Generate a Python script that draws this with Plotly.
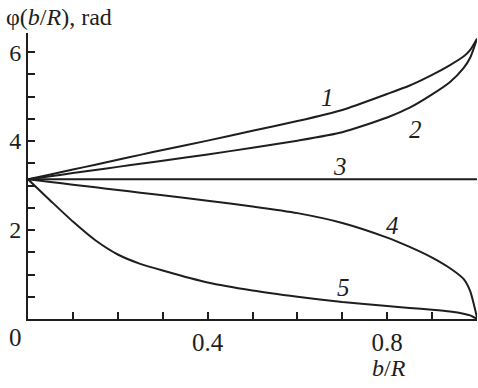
import plotly.graph_objects as go

x = [0, 0.05, 0.1, 0.15, 0.2, 0.25, 0.3, 0.4, 0.5, 0.6, 0.7, 0.8, 0.85, 0.9, 0.94, 0.97, 0.985, 1.0]
curve1 = [3.14, 3.25, 3.36, 3.47, 3.58, 3.69, 3.80, 4.01, 4.23, 4.45, 4.70, 5.06, 5.25, 5.49, 5.71, 5.90, 6.05, 6.30]
curve2 = [3.14, 3.21, 3.28, 3.35, 3.42, 3.49, 3.56, 3.70, 3.85, 4.01, 4.20, 4.53, 4.75, 5.05, 5.33, 5.64, 5.88, 6.30]
curve3 = [3.14] * len(x)
curve4 = [3.14, 3.08, 3.02, 2.96, 2.90, 2.84, 2.78, 2.66, 2.53, 2.38, 2.16, 1.83, 1.62, 1.38, 1.14, 0.90, 0.62, 0.03]
curve5 = [3.14, 2.66, 2.19, 1.77, 1.45, 1.24, 1.09, 0.82, 0.64, 0.50, 0.38, 0.29, 0.25, 0.21, 0.17, 0.12, 0.08, 0.0]

curve_labels = ["1", "2", "3", "4", "5"]
label_x = [0.666, 0.862, 0.695, 0.811, 0.702]
label_y = [4.99, 4.25, 3.42, 2.11, 0.70]

x_ticks = [round(0.1 * i, 1) for i in range(1, 11)]
x_ticktext = ["0.4" if abs(v - 0.4) < 1e-9 else ("0.8" if abs(v - 0.8) < 1e-9 else "") for v in x_ticks]
y_ticks = [0.5 * i for i in range(1, 13)]
y_ticktext = [str(int(v)) if v in (2.0, 4.0, 6.0) else "" for v in y_ticks]

ink = "#1e1e1e"
font = "Liberation Serif"

fig = go.Figure()
for ys in [curve1, curve2, curve3, curve4, curve5]:
    fig.add_trace(go.Scatter(x=x, y=ys, mode="lines",
                             line=dict(color=ink, width=2, shape="spline", smoothing=0.6),
                             showlegend=False, hoverinfo="skip", cliponaxis=False))

for t, lx, ly in zip(curve_labels, label_x, label_y):
    fig.add_annotation(x=lx, y=ly, text="<i>" + t + "</i>", showarrow=False,
                       font=dict(family=font, size=25, color=ink))

fig.add_annotation(x=0, y=1.0, xref="paper", yref="paper", xanchor="left", yanchor="bottom",
                   xshift=-24, yshift=1,
                   text="φ(<i>b</i>/<i>R</i>), rad", showarrow=False,
                   font=dict(family=font, size=24, color=ink))
fig.add_annotation(x=0.797, y=0, xref="paper", yref="paper", xanchor="center", yanchor="top",
                   xshift=3, yshift=-34,
                   text="<i>b</i>/<i>R</i>", showarrow=False,
                   font=dict(family=font, size=24, color=ink))
fig.add_annotation(x=0, y=0, xref="paper", yref="paper", xanchor="center", yanchor="top",
                   xshift=-13, yshift=-3,
                   text="0", showarrow=False,
                   font=dict(family=font, size=25, color=ink))

fig.update_xaxes(range=[0, 1.0], tickvals=x_ticks, ticktext=x_ticktext,
                 ticks="inside", ticklen=7, tickwidth=1.5, tickcolor=ink,
                 showline=True, linecolor=ink, linewidth=2, showgrid=False, zeroline=False,
                 automargin=False,
                 tickfont=dict(family=font, size=25, color=ink))
fig.update_yaxes(range=[0, 6.43], tickvals=y_ticks, ticktext=y_ticktext,
                 ticks="inside", ticklen=7, tickwidth=1.5, tickcolor=ink,
                 showline=True, linecolor=ink, linewidth=2, showgrid=False, zeroline=False,
                 automargin=False,
                 tickfont=dict(family=font, size=24, color=ink))

fig.update_layout(width=478, height=388, margin=dict(l=28, r=1, t=33, b=69),
                  plot_bgcolor="white", paper_bgcolor="white")

fig.write_html("out.html", config={"displayModeBar": False},
               post_script="document.body.style.margin='0';")
